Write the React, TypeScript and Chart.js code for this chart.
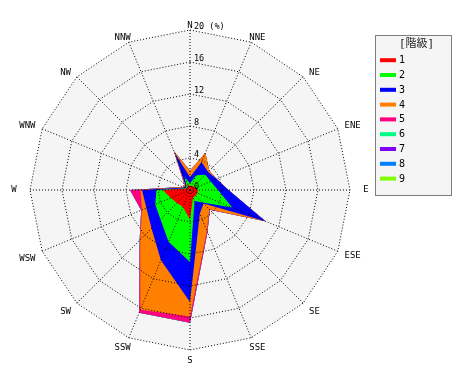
import React, { useEffect, useRef } from "react";
import { Chart, registerables } from "chart.js";

Chart.register(...registerables);

// ---- data ----
const directions = ["N", "NNE", "NE", "ENE", "E", "ESE", "SE", "SSE", "S", "SSW", "SW", "WSW", "W", "WNW", "NW", "NNW"];
const classLabels = ["1", "2", "3", "4", "5", "6", "7", "8", "9"];
const classColors = ["#ff0000", "#00ff00", "#0000ff", "#ff8000", "#ff0080", "#00ff80", "#8000ff", "#0080ff", "#80ff00"];

// frequency (%) of each class per direction
const class1 = [0.5, 0.6, 0.6, 0.8, 1.0, 1.0, 1.0, 1.0, 3.7, 2.3, 2.3, 2.6, 3.4, 0.5, 0.4, 0.8];
const class2 = [0.3, 1.4, 2.1, 2.0, 2.5, 4.7, 1.2, 0.5, 5.3, 4.7, 2.9, 2.1, 0.8, 0.1, 0.2, 1.0];
const class3 = [0.8, 1.8, 0.5, 0.8, 1.3, 4.5, 0.2, 1.7, 5.0, 2.5, 1.6, 1.2, 1.8, 0.2, 0.2, 3.2];
const class4 = [0.8, 1.2, 0.2, 0.0, 0.0, 0.0, 1.0, 2.3, 1.8, 6.7, 2.0, 0.6, 0.2, 0.2, 0.2, 0.2];
const class5 = [0.0, 0.0, 0.0, 0.0, 0.0, 0.0, 0.1, 0.2, 0.8, 0.4, 0.1, 0.1, 1.3, 0.0, 0.0, 0.0];
const class6 = [0, 0, 0, 0, 0, 0, 0, 0, 0, 0, 0, 0, 0, 0, 0, 0];
const class7 = [0, 0, 0, 0, 0, 0, 0, 0, 0, 0, 0, 0, 0, 0, 0, 0];
const class8 = [0, 0, 0, 0, 0, 0, 0, 0, 0, 0, 0, 0, 0, 0, 0, 0];
const class9 = [0, 0, 0, 0, 0, 0, 0, 0, 0, 0, 0, 0, 0, 0, 0, 0];

const tickValues = [0, 4, 8, 12, 16, 20];
const unitLabel = "(%)";
const legendTitle = "[階級]";

const classSeries = [class1, class2, class3, class4, class5, class6, class7, class8, class9];

function cumulative(): number[][] {
  const out: number[][] = [];
  let run = directions.map(() => 0);
  classSeries.forEach((s) => {
    run = run.map((v, i) => Math.round((v + s[i]) * 100) / 100);
    out.push(run.slice());
  });
  return out;
}

const MONO = "'DejaVu Sans Mono', 'Noto Sans CJK JP', monospace";

const decorPlugin = {
  id: "decor",
  beforeDraw(chart: any) {
    const s = chart.scales.r;
    const ctx = chart.ctx;
    ctx.save();
    ctx.beginPath();
    directions.forEach((_, i) => {
      const p = s.getPointPositionForValue(i, s.max);
      if (i === 0) ctx.moveTo(p.x, p.y);
      else ctx.lineTo(p.x, p.y);
    });
    ctx.closePath();
    ctx.fillStyle = "#f5f5f5";
    ctx.fill();
    ctx.restore();
  },
  afterDraw(chart: any) {
    const s = chart.scales.r;
    const ctx = chart.ctx;
    const cx = s.xCenter;
    const cy = s.yCenter;
    const R = s.drawingArea;
    ctx.save();
    ctx.fillStyle = "#000";

    // direction labels
    ctx.font = `9px ${MONO}`;
    ctx.textAlign = "center";
    directions.forEach((d, i) => {
      const ang = (i / directions.length) * Math.PI * 2;
      const sin = Math.sin(ang);
      const cos = Math.cos(ang);
      const x = cx + sin * (R + 16 * Math.min(1, Math.abs(sin) * 3));
      const m = ctx.measureText(d);
      const asc = m.actualBoundingBoxAscent || 6.6;
      if (Math.abs(cos) < 0.1) {
        ctx.textBaseline = "middle";
        ctx.fillText(d, x, cy);
      } else if (cos > 0) {
        ctx.textBaseline = "alphabetic";
        ctx.fillText(d, x, cy - cos * (R + 2));
      } else {
        ctx.textBaseline = "alphabetic";
        ctx.fillText(d, x, cy - cos * (R + 6) + asc);
      }
    });

    // radial tick labels
    ctx.font = `8.5px ${MONO}`;
    ctx.textAlign = "left";
    ctx.textBaseline = "alphabetic";
    tickValues.forEach((v, i) => {
      const p = s.getPointPositionForValue(0, v);
      const txt = i === tickValues.length - 1 ? `${v} ${unitLabel}` : `${v}`;
      ctx.fillText(txt, p.x + 4, p.y - 1);
    });

    // legend
    const lx = 367.5;
    const ly = 27.5;
    const lw = 76;
    const lh = 160;
    ctx.fillStyle = "#f5f5f5";
    ctx.fillRect(lx, ly, lw, lh);
    ctx.strokeStyle = "#000";
    ctx.lineWidth = 1;
    ctx.setLineDash([1, 1]);
    ctx.strokeRect(lx, ly, lw, lh);
    ctx.setLineDash([]);
    ctx.fillStyle = "#222";
    ctx.font = `11px ${MONO}`;
    ctx.textAlign = "center";
    ctx.textBaseline = "middle";
    ctx.fillText(legendTitle, lx + lw / 2 + 3, 36.5);
    ctx.font = `10px ${MONO}`;
    ctx.textAlign = "left";
    classLabels.forEach((lab, i) => {
      const y = 52.2 + i * 14.8;
      ctx.fillStyle = classColors[i];
      ctx.fillRect(372, y - 2, 16, 4);
      ctx.fillStyle = "#000";
      ctx.fillText(lab, 391, y + 0.5);
    });
    ctx.restore();
  },
};

export default function App() {
  const ref = useRef<HTMLCanvasElement | null>(null);

  useEffect(() => {
    if (!ref.current) return;
    const cum = cumulative();
    const chart = new Chart(ref.current, {
      type: "radar",
      data: {
        labels: directions,
        datasets: classLabels.map((lab, i) => ({
          label: lab,
          data: cum[i],
          backgroundColor: classColors[i],
          borderColor: classColors[i],
          borderWidth: 0,
          pointRadius: 0,
          fill: "origin",
          tension: 0,
        })),
      },
      options: {
        responsive: false,
        animation: false,
        events: [],
        layout: { padding: { left: 22, top: 22, right: 112, bottom: 22 } },
        plugins: {
          legend: { display: false },
          tooltip: { enabled: false },
        },
        scales: {
          r: {
            min: 0,
            max: 20,
            ticks: { display: false, stepSize: 4, z: 1 },
            pointLabels: { display: false },
            grid: { color: "#000", lineWidth: 1, z: 1 },
            border: { dash: [1, 2] },
            angleLines: { color: "#000", lineWidth: 1, borderDash: [1, 2] },
          },
        },
      } as any,
      plugins: [decorPlugin],
    });
    return () => chart.destroy();
  }, []);

  return (
    <div style={{ width: 454, height: 364 }}>
      <canvas ref={ref} width={454} height={364} style={{ display: "block" }} />
    </div>
  );
}
